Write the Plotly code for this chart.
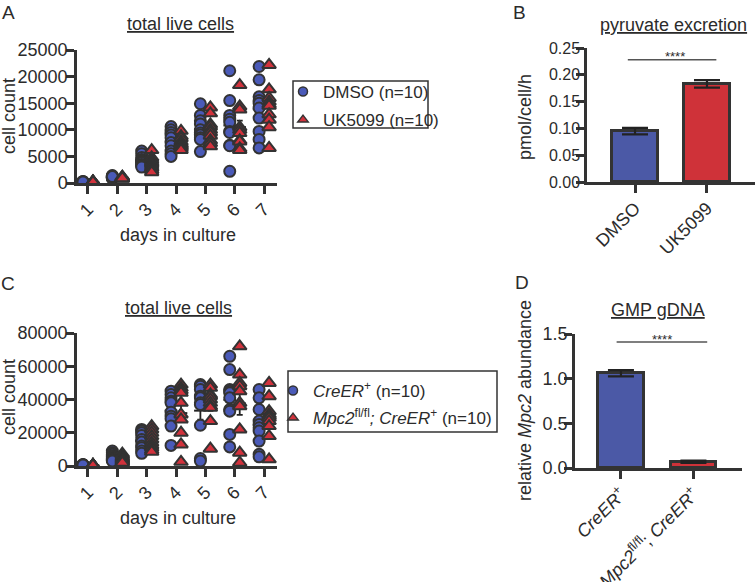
import numpy as np
import plotly.graph_objects as go

W, H = 755, 582

# ---------------- data ----------------
days = [1, 2, 3, 4, 5, 6, 7]
day_labels = ["1", "2", "3", "4", "5", "6", "7"]

# Panel A: total live cells (DMSO vs UK5099), 10 replicates per day
dmso_counts = [
    [100, 150, 150, 200, 200, 250, 150, 100, 300, 200],
    [900, 1000, 1100, 1200, 1300, 1400, 1000, 1100, 900, 1200],
    [6000, 5500, 4800, 4400, 4200, 4000, 3800, 3500, 3300, 3000],
    [10600, 10000, 9500, 9000, 8500, 7600, 7000, 6000, 5500, 5000],
    [14900, 12700, 11700, 11100, 10000, 9400, 9000, 8500, 8200, 5900],
    [21100, 15500, 12700, 12000, 11400, 9700, 9500, 7100, 7000, 2200],
    [21900, 19400, 16200, 15500, 15000, 14100, 12200, 9700, 8200, 6600],
]
uk5099_counts = [
    [150, 200, 250, 300, 200, 150, 250, 200, 300, 150],
    [800, 900, 1000, 1100, 1000, 900, 1200, 1000, 1100, 900],
    [6200, 4800, 4400, 4000, 3800, 3500, 3100, 2800, 2400, 2000],
    [9800, 8800, 8400, 7800, 7400, 7200, 7000, 6800, 6500, 6200],
    [14200, 13100, 11000, 10600, 10000, 9500, 8900, 8000, 7500, 6900],
    [18400, 14400, 13800, 10500, 10000, 9400, 8000, 7800, 6500, 6200],
    [22200, 17600, 16000, 15300, 14800, 14500, 12900, 11900, 10500, 6600],
]

# Panel C: total live cells (CreER+ vs Mpc2fl/fl; CreER+)
creer_counts = [
    [400, 600, 800, 500, 700, 600, 500, 800, 400, 600],
    [9000, 8000, 7000, 6000, 5500, 5000, 4500, 4000, 3500, 3000],
    [22000, 21000, 20000, 18400, 16000, 14400, 12000, 11000, 9000, 7600],
    [45000, 43000, 41000, 39000, 38000, 32400, 30000, 28400, 24000, 12400],
    [49000, 48000, 46000, 42000, 41000, 38000, 37000, 24500, 4500, 3000],
    [66000, 58000, 46000, 45000, 44000, 41000, 34000, 33000, 19000, 11500],
    [46000, 41000, 34000, 27000, 25000, 23000, 21000, 15000, 7000, 5500],
]
mpc2_counts = [
    [500, 400, 600, 300, 500, 700, 400, 600, 500, 300],
    [7500, 6500, 5600, 5000, 4500, 4000, 3500, 3000, 2500, 2000],
    [24000, 22000, 20000, 18000, 16000, 14000, 12400, 11000, 9600, 8500],
    [49000, 47000, 45500, 44000, 38000, 31000, 28000, 20000, 13000, 2500],
    [49000, 47000, 43000, 42000, 40000, 38000, 36000, 35000, 27000, 10400],
    [72000, 55000, 50000, 48000, 45000, 38000, 36000, 22000, 8000, 2000],
    [50000, 42000, 33000, 31000, 30000, 29000, 27000, 24000, 18000, 4000],
]

# Panel B: pyruvate excretion
b_groups = ["DMSO", "UK5099"]
b_means = [0.095, 0.183]
b_sem = [0.006, 0.007]

# Panel D: GMP gDNA
d_groups = ["<i>CreER</i><sup>+</sup>",
            "<i>Mpc2</i><sup>fl/fl</sup>; <i>CreER</i><sup>+</sup>"]
d_means = [1.06, 0.07]
d_sem = [0.035, 0.013]

# ---------------- style ----------------
FONT = "Arial, Liberation Sans, Helvetica, sans-serif"
TXT = "#2b2b2b"
AX = "#333333"
BLUE = "#4a5ab8"
RED = "#d1323c"
BAR_BLUE = "#4b59a6"
BAR_RED = "#cf3239"
OFF = 0.17


def px(x):
    return x / W


def py(y):
    return 1 - y / H


fig = go.Figure()


def add_scatter_panel(xa, ya, counts_a, counts_b, name_a, name_b, legend):
    groups = [
        (counts_a, "circle", BLUE, -1, name_a),
        (counts_b, "triangle-up", RED, 1, name_b),
    ]
    # mean +/- SEM behind the points
    for counts, sym, col, sgn, name in groups:
        means = [float(np.mean(v)) for v in counts]
        sems = [float(np.std(v, ddof=1) / np.sqrt(len(v))) for v in counts]
        fig.add_trace(go.Scatter(
            x=[d + sgn * OFF for d in days], y=means, mode="markers",
            xaxis=xa, yaxis=ya, showlegend=False,
            marker=dict(symbol="line-ew", size=9, color="#222",
                        line=dict(color="#222", width=2)),
            error_y=dict(type="data", array=sems, color="#222", thickness=1.8, width=3),
        ))
    for counts, sym, col, sgn, name in groups:
        xs, ys = [], []
        for d, vals in zip(days, counts):
            xs += [d + sgn * OFF] * len(vals)
            ys += vals
        fig.add_trace(go.Scatter(
            x=xs, y=ys, mode="markers", xaxis=xa, yaxis=ya, showlegend=False,
            marker=dict(symbol=sym, size=11 if sym == "circle" else 12, color=col,
                        line=dict(color=AX, width=2)),
        ))
    for counts, sym, col, sgn, name in groups:
        fig.add_trace(go.Scatter(
            x=[None], y=[None], mode="markers", xaxis=xa, yaxis=ya, name=name,
            legend=legend, legendgroup=legend + name, showlegend=True,
            marker=dict(symbol=sym, size=9, color=col, line=dict(color=AX, width=1.5)),
        ))


add_scatter_panel("x", "y", dmso_counts, uk5099_counts,
                  "DMSO (n=10)", "UK5099 (n=10)", "legend")
add_scatter_panel("x3", "y3", creer_counts, mpc2_counts,
                  "<i>CreER</i><sup>+</sup> (n=10)",
                  "<i>Mpc2</i><sup>fl/fl</sup><i>; CreER</i><sup>+</sup> (n=10)", "legend2")

# bars
fig.add_trace(go.Bar(
    x=[0, 1], y=b_means, xaxis="x2", yaxis="y2", width=0.64, showlegend=False,
    marker=dict(color=[BAR_BLUE, BAR_RED], line=dict(color=AX, width=3)),
    error_y=dict(type="data", array=b_sem, color="#222", thickness=2.2, width=13),
))
fig.add_trace(go.Bar(
    x=[0, 1], y=d_means, xaxis="x4", yaxis="y4", width=0.63, showlegend=False,
    marker=dict(color=[BAR_BLUE, BAR_RED], line=dict(color=AX, width=3)),
    error_y=dict(type="data", array=d_sem, color="#222", thickness=2.2, width=13),
))

axis_common = dict(showline=True, linecolor=AX, linewidth=2.5, ticks="outside",
                   ticklen=8, tickwidth=2.5, tickcolor=AX, showgrid=False,
                   zeroline=False, automargin=False,
                   tickfont=dict(family=FONT, size=18, color=TXT))
yaxis_common = dict(axis_common, ticklabelstandoff=-5)
xaxis_common = dict(axis_common, ticklabelstandoff=-2)

legend_common = dict(xanchor="left", yanchor="top", borderwidth=0,
                     bgcolor="rgba(0,0,0,0)", itemwidth=30, traceorder="grouped",
                     font=dict(family=FONT, size=17, color=TXT))

fig.update_layout(
    width=W, height=H, margin=dict(l=0, r=0, t=0, b=0, autoexpand=False),
    paper_bgcolor="white", plot_bgcolor="white",
    font=dict(family=FONT, color=TXT, size=18),
    bargap=0,
    xaxis=dict(xaxis_common, domain=[px(77), px(277)], range=[0.626, 7.44],
               tickvals=days, ticktext=day_labels, tickangle=-45, anchor="y"),
    yaxis=dict(yaxis_common, domain=[py(183), py(50)], range=[0, 25000],
               dtick=5000, tickformat="d", anchor="x"),
    xaxis2=dict(xaxis_common, domain=[px(587), px(755)], range=[-0.667, 1.667],
                tickvals=[0, 1], ticktext=b_groups, tickangle=-45, anchor="y2"),
    yaxis2=dict(yaxis_common, domain=[py(182), py(48)], range=[0, 0.25],
                dtick=0.05, tickformat=".2f", anchor="x2", ticklabelstandoff=-7,
                tickfont=dict(family=FONT, size=16, color=TXT)),
    xaxis3=dict(xaxis_common, domain=[px(77), px(277)], range=[0.626, 7.44],
                tickvals=days, ticktext=day_labels, tickangle=-45, anchor="y3"),
    yaxis3=dict(yaxis_common, domain=[py(466), py(333)], range=[0, 80000],
                dtick=20000, tickformat="d", anchor="x3"),
    xaxis4=dict(xaxis_common, domain=[px(575), px(742)], range=[-0.634, 1.67],
                tickvals=[0, 1], ticktext=d_groups, tickangle=-45, anchor="y4"),
    yaxis4=dict(yaxis_common, domain=[py(468), py(334)], range=[0, 1.5],
                dtick=0.5, tickformat=".1f", anchor="x4", ticklabelstandoff=-7),
    legend=dict(legend_common, x=px(283), y=py(74), tracegroupgap=3),
    legend2=dict(legend_common, x=px(273), y=py(373), tracegroupgap=2),
)

# legend boxes
fig.add_shape(type="rect", xref="paper", yref="paper", x0=px(293), x1=px(428),
              y0=py(128), y1=py(81), line=dict(color=AX, width=1.5))
fig.add_shape(type="rect", xref="paper", yref="paper", x0=px(288), x1=px(497),
              y0=py(432), y1=py(371), line=dict(color=AX, width=1.5))

# significance lines
fig.add_shape(type="line", xref="x2", yref="y2", x0=-0.1, x1=1.13, y0=0.228, y1=0.228,
              line=dict(color="#555", width=1.5))
fig.add_shape(type="line", xref="x4", yref="y4", x0=-0.06, x1=1.19, y0=1.41, y1=1.41,
              line=dict(color="#555", width=1.5))

annotations = [
    ("A", 8, 12, 19, 0), ("B", 519, 12, 19, 0),
    ("C", 8, 283, 19, 0), ("D", 522, 282, 19, 0),
    ("<u>total live cells</u>", 180, 24, 18, 0),
    ("<u>pyruvate excretion</u>", 673, 25, 18, 0),
    ("<u>total live cells</u>", 178, 308, 18, 0),
    ("<u>GMP gDNA</u>", 658, 310, 18, 0),
    ("cell count", 9, 116, 18, -90),
    ("days in culture", 178, 235, 18, 0),
    ("cell count", 9, 397, 18, -90),
    ("days in culture", 178, 518, 18, 0),
    ("pmol/cell/h", 525, 117, 18, -90),
    ("relative <i>Mpc2</i> abundance", 525, 401, 18, -90),
    ("****", 675, 57, 13, 0),
    ("****", 662, 339, 13, 0),
]
for text, x, y, size, ang in annotations:
    fig.add_annotation(text=text, x=px(x), y=py(y), xref="paper", yref="paper",
                       showarrow=False, xanchor="center", yanchor="middle",
                       textangle=ang, font=dict(family=FONT, size=size, color=TXT))

fig.write_html("out.html", config={"displayModeBar": False},
               post_script="document.body.style.margin='0px';")
